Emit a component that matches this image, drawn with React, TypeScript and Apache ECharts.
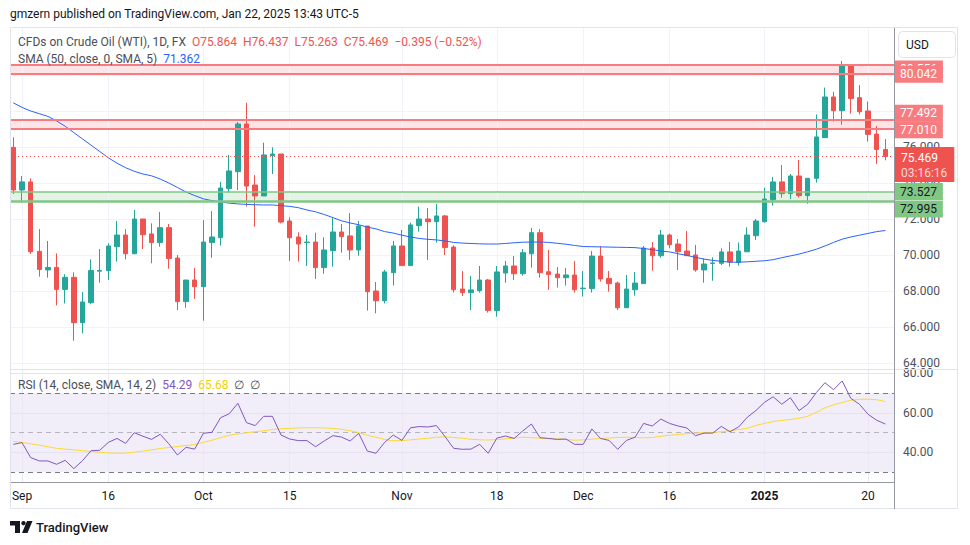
import React, { useEffect, useRef } from 'react';
import * as echarts from 'echarts';

const dates = [
  '2024-08-30',
  '2024-09-02', '2024-09-03', '2024-09-04', '2024-09-05', '2024-09-06', '2024-09-09', '2024-09-10', '2024-09-11', '2024-09-12', '2024-09-13',
  '2024-09-16', '2024-09-17', '2024-09-18', '2024-09-19', '2024-09-20', '2024-09-23', '2024-09-24', '2024-09-25', '2024-09-26', '2024-09-27', '2024-09-30',
  '2024-10-01', '2024-10-02', '2024-10-03', '2024-10-04', '2024-10-07', '2024-10-08', '2024-10-09', '2024-10-10', '2024-10-11', '2024-10-14',
  '2024-10-15', '2024-10-16', '2024-10-17', '2024-10-18', '2024-10-21', '2024-10-22', '2024-10-23', '2024-10-24', '2024-10-25', '2024-10-28',
  '2024-10-29', '2024-10-30', '2024-10-31',
  '2024-11-01', '2024-11-04', '2024-11-05', '2024-11-06', '2024-11-07', '2024-11-08', '2024-11-11', '2024-11-12', '2024-11-13', '2024-11-14',
  '2024-11-15', '2024-11-18', '2024-11-19', '2024-11-20', '2024-11-21', '2024-11-22', '2024-11-25', '2024-11-26', '2024-11-27', '2024-11-28', '2024-11-29',
  '2024-12-02', '2024-12-03', '2024-12-04', '2024-12-05', '2024-12-06', '2024-12-09', '2024-12-10', '2024-12-11', '2024-12-12', '2024-12-13',
  '2024-12-16', '2024-12-17', '2024-12-18', '2024-12-19', '2024-12-20', '2024-12-23', '2024-12-24', '2024-12-26', '2024-12-27', '2024-12-30', '2024-12-31',
  '2025-01-02', '2025-01-03', '2025-01-06', '2025-01-07', '2025-01-08', '2025-01-09', '2025-01-10', '2025-01-13', '2025-01-14', '2025-01-15',
  '2025-01-16', '2025-01-17', '2025-01-20', '2025-01-21', '2025-01-22',
];

const opens = [
  75.98, 73.61, 74.06, 70.2, 69.17, 69.31, 68.09, 68.76, 66.24, 67.35,
  69.1, 69.13, 70.46, 71.11, 70.07, 72.0, 71.17, 70.69, 71.52, 69.83,
  67.41, 68.61, 68.24, 70.69, 70.96, 73.69, 74.63, 77.28, 73.89, 73.28,
  75.52, 75.61, 71.89, 71.0, 70.69, 70.72, 69.3, 70.24, 71.28, 71.06,
  70.28, 71.61, 68.0, 67.46, 69.02, 70.5, 69.41, 71.63, 72.0, 71.85,
  72.17, 70.44, 68.11, 67.91, 68.02, 68.61, 66.91, 69.0, 69.39, 68.96,
  70.07, 71.24, 69.07, 68.94, 68.74, 68.89, 68.13, 68.13, 69.94, 68.7,
  68.44, 67.07, 68.07, 68.41, 70.39, 69.96, 71.11, 70.61, 70.22, 70.0,
  69.17, 69.53, 69.54, 70.17, 69.59, 70.18, 71.07, 71.85, 73.07, 74.06,
  73.41, 74.39, 73.3, 74.26, 76.52, 78.78, 78.02, 80.5, 78.74, 78.0,
  76.72, 75.864,
];
const closes = [
  73.61, 74.06, 70.18, 69.2, 69.31, 68.09, 68.76, 66.24, 67.39, 69.14,
  69.14, 70.5, 71.11, 70.07, 72.0, 71.13, 70.69, 71.52, 69.8, 67.41,
  68.61, 68.24, 70.72, 71.0, 73.72, 74.67, 77.28, 73.83, 73.28, 75.56,
  75.61, 71.83, 70.96, 70.61, 70.72, 69.3, 70.28, 71.28, 71.02, 70.28,
  71.61, 67.96, 67.46, 69.06, 70.5, 69.41, 71.67, 72.0, 71.85, 72.17,
  70.41, 68.07, 67.91, 68.06, 68.61, 66.91, 69.06, 69.39, 68.96, 70.13,
  71.24, 69.02, 68.91, 68.74, 68.89, 68.07, 68.16, 69.94, 68.67, 68.41,
  67.07, 68.11, 68.44, 70.39, 69.96, 71.11, 70.57, 70.18, 69.96, 69.17,
  69.5, 69.56, 70.17, 69.61, 70.22, 71.11, 71.89, 73.11, 74.06, 73.41,
  74.39, 73.3, 74.26, 76.56, 78.78, 78.02, 80.5, 78.69, 77.96, 76.7,
  75.864, 75.469,
];
const lows = [
  73.39, 72.91, 70.06, 68.8, 68.74, 67.2, 67.31, 65.24, 65.65, 67.26,
  68.46, 68.61, 69.63, 69.76, 70.07, 70.33, 69.54, 70.46, 69.24, 66.94,
  67.07, 67.56, 66.35, 69.85, 70.52, 73.46, 73.61, 72.69, 71.57, 73.28,
  74.5, 71.76, 69.67, 69.63, 69.39, 68.67, 68.96, 69.35, 70.13, 69.72,
  69.96, 66.91, 66.76, 67.31, 68.3, 69.41, 69.41, 71.3, 69.72, 70.69,
  70.0, 67.91, 67.72, 66.94, 67.91, 66.8, 66.57, 68.46, 68.61, 68.85,
  69.3, 68.74, 68.06, 68.19, 68.3, 67.91, 67.69, 67.91, 68.52, 67.96,
  66.94, 67.07, 67.74, 68.41, 69.13, 69.85, 70.37, 69.17, 69.96, 69.07,
  68.46, 68.57, 69.44, 69.35, 69.41, 70.18, 70.83, 71.8, 72.74, 73.19,
  73.11, 73.19, 72.85, 74.02, 76.52, 77.41, 77.24, 77.85, 77.81, 76.3,
  75.07, 75.263,
];
const highs = [
  76.54, 74.39, 74.26, 71.44, 70.78, 70.09, 68.93, 69.04, 67.94, 69.76,
  70.33, 70.65, 71.89, 71.44, 72.5, 72.0, 71.76, 72.39, 71.72, 70.0,
  68.61, 69.28, 71.94, 72.44, 74.06, 75.56, 77.39, 78.46, 74.44, 76.24,
  75.98, 75.61, 72.09, 71.26, 71.11, 71.24, 70.98, 72.06, 71.72, 72.33,
  71.89, 71.61, 68.5, 69.17, 70.78, 71.39, 71.8, 72.69, 72.61, 72.83,
  72.22, 70.54, 69.11, 68.83, 69.39, 68.67, 69.39, 69.67, 69.94, 70.33,
  71.5, 71.44, 70.28, 69.33, 69.28, 69.67, 69.11, 70.22, 70.5, 69.11,
  68.52, 68.89, 69.06, 70.5, 70.72, 71.39, 71.19, 70.89, 71.33, 70.56,
  69.81, 69.87, 70.37, 70.72, 70.7, 71.54, 72.0, 73.74, 74.33, 75.0,
  74.5, 75.28, 74.26, 77.81, 79.3, 79.07, 80.78, 80.59, 79.44, 78.52,
  77.17, 76.437,
];

const sma50 = [
  78.45, 78.2, 78.0, 77.85, 77.7, 77.45, 77.15, 76.8, 76.45, 76.1,
  75.75, 75.4, 75.1, 74.85, 74.65, 74.5, 74.4, 74.22, 74.0, 73.75,
  73.5, 73.3, 73.12, 73.02, 72.95, 72.88, 72.84, 72.81, 72.79, 72.78,
  72.78, 72.74, 72.7, 72.63, 72.5, 72.4, 72.25, 72.08, 71.9, 71.78,
  71.68, 71.55, 71.45, 71.3, 71.22, 71.1, 71.0, 70.92, 70.87, 70.84,
  70.78, 70.7, 70.66, 70.64, 70.62, 70.61, 70.61, 70.64, 70.68, 70.71,
  70.72, 70.72, 70.7, 70.65, 70.6, 70.53, 70.47, 70.46, 70.45, 70.44,
  70.43, 70.42, 70.41, 70.36, 70.3, 70.22, 70.17, 70.07, 69.98, 69.87,
  69.77, 69.7, 69.65, 69.6, 69.6, 69.62, 69.65, 69.68, 69.74, 69.85,
  69.95, 70.05, 70.18, 70.32, 70.5, 70.7, 70.88, 71.0, 71.1, 71.2,
  71.3, 71.362,
];

const rsi = [
  44.0, 44.9, 37.3, 35.6, 35.6, 33.9, 35.9, 31.7, 35.7, 40.8,
  41.0, 45.0, 47.0, 44.5, 49.9, 48.1, 46.5, 49.1, 44.3, 38.6,
  42.5, 41.6, 49.6, 50.1, 57.5, 59.5, 64.8, 55.0, 53.5, 58.2,
  58.2, 48.7, 46.7, 45.9, 45.9, 42.8, 45.7, 48.4, 47.7, 45.7,
  49.6, 40.6, 39.5, 45.0, 48.7, 46.0, 52.4, 53.0, 52.8, 53.5,
  47.9, 42.0, 41.5, 41.6, 44.0, 39.5, 47.2, 48.2, 47.0, 50.8,
  54.3, 47.4, 47.0, 46.5, 46.7, 44.0, 44.0, 51.8, 47.0, 46.0,
  41.5, 46.0, 47.6, 54.6, 53.3, 56.8, 54.6, 53.3, 52.3, 48.4,
  49.7, 49.7, 53.1, 50.4, 52.8, 57.7, 61.1, 65.3, 68.1, 64.3,
  67.6, 61.1, 64.3, 70.2, 75.2, 71.7, 76.1, 67.3, 64.3, 59.2,
  56.2, 54.29,
];
const rsiSma = [
  45.5, 45.0, 44.3, 43.6, 42.8, 42.0, 41.6, 41.2, 40.8, 40.4,
  40.0, 39.7, 39.5, 39.6, 40.0, 40.6, 41.2, 41.9, 42.4, 42.9,
  43.4, 43.9, 45.0, 46.1, 47.4, 48.6, 49.3, 49.9, 50.4, 50.9,
  51.5, 51.9, 52.1, 52.3, 52.4, 52.4, 52.3, 52.1, 51.6, 50.9,
  49.9, 48.6, 47.6, 46.5, 45.8, 45.9, 46.3, 46.7, 47.1, 47.6,
  47.8, 47.5, 47.1, 46.6, 46.3, 46.2, 46.4, 46.8, 47.2, 47.6,
  47.4, 47.1, 46.9, 46.8, 46.5, 46.1, 46.3, 46.6, 47.0, 47.2,
  47.5, 47.6, 47.5, 47.3, 47.5, 48.1, 48.6, 49.0, 49.4, 49.7,
  49.9, 50.1, 50.4, 50.9, 51.5, 52.1, 53.6, 54.6, 55.6, 56.1,
  56.6, 57.2, 58.2, 60.2, 62.5, 64.0, 65.2, 66.3, 66.8, 66.9,
  66.6, 65.68,
];

const priceTicks = [64, 66, 68, 70, 72, 74, 76, 78, 80];
const rsiTicks = [40, 60, 80];
const rsiBands = [30, 50, 70];
const timeTickIndex = [1, 11, 22, 32, 45, 56, 66, 76, 87, 99];
const timeTickLabels = ['Sep', '16', 'Oct', '15', 'Nov', '18', 'Dec', '16', '2025', '20'];
const resistanceLevels = [80.556, 80.042, 77.492, 77.01];
const supportLevels = [73.527, 72.995];
const lastPrice = 75.469;
const countdown = '03:16:16';

const FONT = 'Roboto, "Noto Sans", sans-serif';
const RED = '#ef5350';
const GREEN = '#26a69a';
const ZONE_RED = '#f77c80';
const ZONE_GREEN = '#81c784';

export default function App() {
  const ref = useRef<HTMLDivElement>(null);

  useEffect(() => {
    if (!ref.current) return;
    const chart = echarts.init(ref.current, undefined, { renderer: 'svg' });

    const candleData = dates.map((_, i) => [i, opens[i], closes[i], lows[i], highs[i]]);
    const smaData = sma50.map((v, i) => [i, v]);
    const rsiData = rsi.map((v, i) => [i, v]);
    const rsiSmaData = rsiSma.map((v, i) => [i, v]);

    const xMin = -0.394;
    const xMax = 102.0;

    const levelLabel = (value: number, bg: string, fg: string, offY: number) => ({
      show: true,
      position: 'end',
      distance: 1,
      formatter: () => value.toFixed(3),
      backgroundColor: bg,
      color: fg,
      fontSize: 12,
      fontFamily: FONT,
      padding: [3, 6, 2, 5],
      offset: [0, offY],
    });

    const option: any = {
      animation: false,
      textStyle: { fontFamily: FONT },
      grid: [
        { left: 10, right: 76, top: 28, height: 340 },
        { left: 10, right: 76, top: 370, height: 112 },
      ],
      xAxis: [
        {
          type: 'value', gridIndex: 0, min: xMin, max: xMax,
          axisLine: { show: false }, axisTick: { show: false }, axisLabel: { show: false }, splitLine: { show: false },
        },
        {
          type: 'value', gridIndex: 1, min: xMin, max: xMax,
          axisLine: { show: true, onZero: false, lineStyle: { color: '#9598a1', width: 1 } },
          axisTick: { show: false },
          splitLine: { show: false },
          axisLabel: {
            customValues: timeTickIndex,
            margin: 8,
            color: '#131722',
            fontSize: 12,
            fontFamily: FONT,
            formatter: (v: number) => {
              const k = timeTickIndex.indexOf(Math.round(v));
              const t = k >= 0 ? timeTickLabels[k] : '';
              return /^\d{4}$/.test(t) ? '{b|' + t + '}' : t;
            },
            rich: { b: { fontWeight: 'bold', fontSize: 12, color: '#131722', fontFamily: FONT } },
          },
        },
      ],
      yAxis: [
        {
          type: 'value', gridIndex: 0, position: 'right', min: 63.722, max: 82.611,
          axisLine: { show: false }, axisTick: { show: false }, splitLine: { show: false },
          axisLabel: {
            customValues: priceTicks, margin: 9, color: '#4c525e', fontSize: 12, fontFamily: FONT,
            formatter: (v: number) => v.toFixed(3),
          },
        },
        {
          type: 'value', gridIndex: 1, position: 'right', min: 24.94, max: 81.65,
          axisLine: { show: false }, axisTick: { show: false }, splitLine: { show: false },
          axisLabel: {
            customValues: rsiTicks, margin: 9, color: '#4c525e', fontSize: 12, fontFamily: FONT,
            formatter: (v: number) => v.toFixed(2),
          },
        },
      ],
      series: [
        {
          name: 'grid-price', type: 'line', xAxisIndex: 0, yAxisIndex: 0, data: [], silent: true,
          markLine: {
            silent: true, symbol: 'none', z: 1, label: { show: false },
            lineStyle: { color: '#f0f3fa', width: 1, type: 'solid' },
            data: [
              ...priceTicks.map((v) => ({ yAxis: v })),
              ...timeTickIndex.map((i) => ({ xAxis: i })),
            ],
          },
          markArea: {
            silent: true, z: 1,
            data: [
              [{ yAxis: resistanceLevels[1], itemStyle: { color: 'rgba(242,54,69,0.13)' } }, { yAxis: resistanceLevels[0] }],
              [{ yAxis: resistanceLevels[3], itemStyle: { color: 'rgba(242,54,69,0.13)' } }, { yAxis: resistanceLevels[2] }],
              [{ yAxis: supportLevels[1], itemStyle: { color: 'rgba(76,175,80,0.15)' } }, { yAxis: supportLevels[0] }],
            ],
          },
        },
        {
          name: 'CFDs on Crude Oil (WTI)', type: 'candlestick', xAxisIndex: 0, yAxisIndex: 0,
          data: candleData, barWidth: 5, z: 3,
          itemStyle: { color: GREEN, color0: RED, borderColor: GREEN, borderColor0: RED, borderWidth: 1 },
        },
        {
          name: 'SMA 50', type: 'line', xAxisIndex: 0, yAxisIndex: 0, data: smaData, z: 4,
          showSymbol: false, symbol: 'none', smooth: false,
          lineStyle: { color: '#2962ff', width: 1 },
        },
        {
          name: 'levels', type: 'line', xAxisIndex: 0, yAxisIndex: 0, data: [], silent: true,
          markLine: {
            silent: true, symbol: 'none', z: 6, precision: 3,
            data: [
              { yAxis: resistanceLevels[0], lineStyle: { color: ZONE_RED, width: 2, type: 'solid' }, label: levelLabel(resistanceLevels[0], ZONE_RED, '#ffffff', 4) },
              { yAxis: resistanceLevels[1], lineStyle: { color: ZONE_RED, width: 2, type: 'solid' }, label: levelLabel(resistanceLevels[1], ZONE_RED, '#ffffff', 0) },
              { yAxis: resistanceLevels[2], lineStyle: { color: ZONE_RED, width: 2, type: 'solid' }, label: levelLabel(resistanceLevels[2], ZONE_RED, '#ffffff', -7) },
              { yAxis: resistanceLevels[3], lineStyle: { color: ZONE_RED, width: 2, type: 'solid' }, label: levelLabel(resistanceLevels[3], ZONE_RED, '#ffffff', 1) },
              { yAxis: supportLevels[0], lineStyle: { color: ZONE_GREEN, width: 1.5, type: 'solid' }, label: levelLabel(supportLevels[0], ZONE_GREEN, '#131722', 0) },
              { yAxis: supportLevels[1], lineStyle: { color: ZONE_GREEN, width: 2.5, type: 'solid' }, label: levelLabel(supportLevels[1], ZONE_GREEN, '#131722', 8) },
              {
                yAxis: lastPrice,
                lineStyle: { color: RED, width: 1, type: [1, 3] },
                label: {
                  show: true, position: 'end', distance: 1,
                  formatter: () => '{p|' + lastPrice.toFixed(3) + '}\n{t|' + countdown + '}',
                  backgroundColor: RED, padding: [3, 7, 2, 6], offset: [0, 8],
                  rich: {
                    p: { color: '#ffffff', fontSize: 12, lineHeight: 15, fontFamily: FONT },
                    t: { color: '#fcd9da', fontSize: 12, lineHeight: 15, fontFamily: FONT },
                  },
                },
              },
            ],
          },
        },
        {
          name: 'grid-rsi', type: 'line', xAxisIndex: 1, yAxisIndex: 1, data: [], silent: true,
          markArea: {
            silent: true, z: 1,
            data: [[{ yAxis: rsiBands[0], itemStyle: { color: 'rgba(126,87,194,0.1)' } }, { yAxis: rsiBands[2] }]],
          },
          markLine: {
            silent: true, symbol: 'none', z: 2, label: { show: false },
            data: [
              ...rsiTicks.map((v) => ({ yAxis: v, lineStyle: { color: '#e6e2f2', width: 1, type: 'solid' } })),
              ...timeTickIndex.map((i) => ({ xAxis: i, lineStyle: { color: '#ebe8f5', width: 1, type: 'solid' } })),
              { yAxis: rsiBands[2], lineStyle: { color: '#787b86', width: 1, type: [5, 4] } },
              { yAxis: rsiBands[1], lineStyle: { color: 'rgba(120,123,134,0.5)', width: 1, type: [5, 4] } },
              { yAxis: rsiBands[0], lineStyle: { color: '#787b86', width: 1, type: [5, 4] } },
            ],
          },
        },
        {
          name: 'RSI', type: 'line', xAxisIndex: 1, yAxisIndex: 1, data: rsiData, z: 4,
          showSymbol: false, symbol: 'none', lineStyle: { color: '#7e57c2', width: 1 },
        },
        {
          name: 'RSI SMA', type: 'line', xAxisIndex: 1, yAxisIndex: 1, data: rsiSmaData, z: 3,
          showSymbol: false, symbol: 'none', lineStyle: { color: '#fdd835', width: 1 },
        },
      ],
      graphic: [
        {
          type: 'text', x: 10, y: 14, z: 10,
          style: { text: 'gmzern published on TradingView.com, Jan 22, 2025 13:43 UTC-5', fill: '#131722', fontSize: 12, fontFamily: FONT, verticalAlign: 'middle' },
        },
        {
          type: 'rect', z: 10, silent: true,
          shape: { x: 10.5, y: 27.5, width: 947, height: 481 },
          style: { fill: 'none', stroke: '#e0e3eb', lineWidth: 1 },
        },
        {
          type: 'line', z: 10, silent: true,
          shape: { x1: 10, y1: 369.5, x2: 958, y2: 369.5 },
          style: { stroke: '#e0e3eb', lineWidth: 1 },
        },
        {
          type: 'line', z: 10, silent: true,
          shape: { x1: 894.5, y1: 28, x2: 894.5, y2: 509 },
          style: { stroke: '#9598a1', lineWidth: 1 },
        },
        {
          type: 'rect', z: 10, silent: true,
          shape: { x: 898.5, y: 31.5, width: 57, height: 26, r: 4 },
          style: { fill: '#ffffff', stroke: '#e0e3eb', lineWidth: 1 },
        },
        {
          type: 'text', x: 906, y: 44.5, z: 11,
          style: { text: 'USD', fill: '#131722', fontSize: 12, fontFamily: FONT, verticalAlign: 'middle' },
        },
        {
          type: 'text', x: 18, y: 42, z: 11,
          style: {
            text: '{t|CFDs on Crude Oil (WTI), 1D, FX}  {v|O75.864}  {v|H76.437}  {v|L75.263}  {v|C75.469}  {v|\u22120.395 (\u22120.52%)}',
            verticalAlign: 'middle', fontSize: 12, fontFamily: FONT,
            rich: {
              t: { fill: '#4a4e59', color: '#4a4e59', fontSize: 12, fontFamily: FONT },
              v: { fill: RED, color: RED, fontSize: 12, fontFamily: FONT },
            },
          },
        },
        {
          type: 'text', x: 18, y: 59, z: 11,
          style: {
            text: '{t|SMA (50, close, 0, SMA, 5)}  {b|71.362}',
            verticalAlign: 'middle', fontSize: 12, fontFamily: FONT,
            rich: {
              t: { fill: '#4a4e59', color: '#4a4e59', fontSize: 12, fontFamily: FONT },
              b: { fill: '#2962ff', color: '#2962ff', fontSize: 12, fontFamily: FONT },
            },
          },
        },
        {
          type: 'text', x: 18, y: 385, z: 11,
          style: {
            text: '{t|RSI (14, close, SMA, 14, 2)}  {p|54.29}  {y|65.68}  {t|\u2205  \u2205}',
            verticalAlign: 'middle', fontSize: 12, fontFamily: FONT,
            rich: {
              t: { fill: '#4a4e59', color: '#4a4e59', fontSize: 12, fontFamily: FONT },
              p: { fill: '#7e57c2', color: '#7e57c2', fontSize: 12, fontFamily: FONT },
              y: { fill: '#f5d000', color: '#f5d000', fontSize: 12, fontFamily: FONT },
            },
          },
        },
        {
          type: 'polygon', z: 10, silent: true,
          shape: { points: [[10, 521], [20, 521], [20, 533], [15, 533], [15, 525.5], [10, 525.5]] },
          style: { fill: '#131722' },
        },
        {
          type: 'circle', z: 10, silent: true,
          shape: { cx: 23.5, cy: 523.2, r: 2.2 },
          style: { fill: '#131722' },
        },
        {
          type: 'polygon', z: 10, silent: true,
          shape: { points: [[27, 521], [32.5, 521], [27.5, 533], [22, 533]] },
          style: { fill: '#131722' },
        },
        {
          type: 'text', x: 36, y: 527.5, z: 11,
          style: { text: 'TradingView', fill: '#131722', fontSize: 13, fontWeight: 500, fontFamily: FONT, verticalAlign: 'middle' },
        },
      ],
    };

    chart.setOption(option);
    return () => chart.dispose();
  }, []);

  return <div ref={ref} style={{ width: 970, height: 545, position: 'absolute', left: 0, top: 0, background: '#ffffff' }} />;
}
